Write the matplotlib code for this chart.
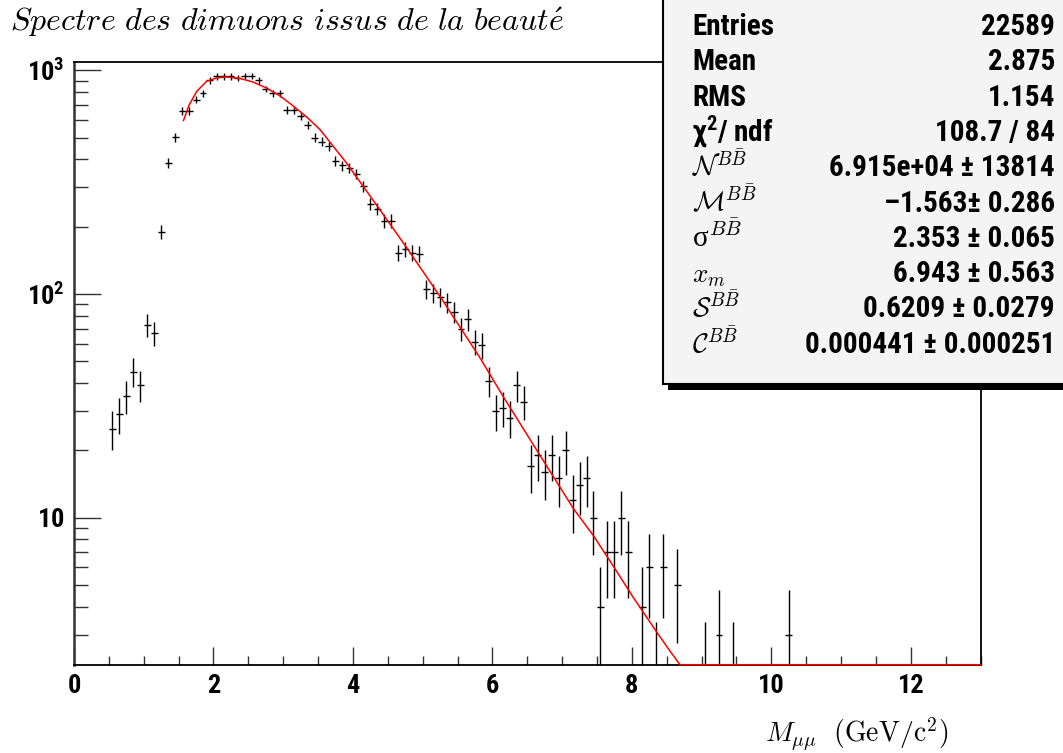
import os
import numpy as np
import matplotlib
matplotlib.use("Agg")
import matplotlib.pyplot as plt
from matplotlib import font_manager as fm
from matplotlib.patches import Rectangle
from matplotlib.ticker import LogLocator, NullFormatter, MultipleLocator

# ---------------- data ----------------
bin_lo = 0.0
bin_width = 0.1
counts = [
    0, 0, 0, 0, 0, 25, 29, 35, 45, 39,
    73, 67, 190, 386, 503, 660, 660, 740, 789, 902,
    940, 940, 940, 925, 947, 947, 902, 826, 789, 789,
    667, 665, 623, 570, 501, 480, 457, 394, 376, 368,
    344, 303, 253, 241, 213, 213, 153, 159, 153, 151,
    105, 101, 97, 92, 83, 70, 77, 61, 59, 41,
    30, 31, 28, 39, 33, 17, 19, 16, 19, 15,
    20, 12, 14, 15, 10, 4, 7, 7, 10, 7,
    0, 4, 6, 2, 6, 0, 5, 0, 0, 0,
    2, 0, 3, 0, 2, 0, 0, 0, 0, 0,
    0, 0, 3, 0, 0, 0, 0, 0, 0, 0,
    0, 0, 0, 0, 0, 0, 0, 0, 0, 0,
    0, 0, 0, 0, 0, 0, 0, 0, 0, 0,
]

# fit curve (values below the frame are drawn on its bottom edge)
fit_x = [1.57, 1.65, 1.76, 1.90, 2.05, 2.19, 2.38, 2.57, 2.76, 2.95, 3.14, 3.33,
         3.53, 3.72, 3.91, 4.10, 4.40, 4.76, 5.25, 5.82, 6.15, 6.66, 7.16, 7.45,
         7.73, 8.02, 8.35, 8.54, 8.69, 8.75, 13.0]
fit_y = [597, 700, 806, 893, 927, 934, 921, 887, 834, 771, 695, 622,
         543, 457, 385, 318, 235, 163, 97.5, 52, 35, 19.5, 11.0, 8.3,
         6.1, 4.4, 3.1, 2.55, 2.2, 0.0, 0.0]

x_major = [0, 2, 4, 6, 8, 10, 12]
x_labels = ["0", "2", "4", "6", "8", "10", "12"]
y_major = [10, 100, 1000]
y_labels = [r"$\mathbf{10}$", r"$\mathbf{10^{2}}$", r"$\mathbf{10^{3}}$"]

title = r"$\mathit{Spectre\ des\ dimuons\ issus\ de\ la\ beaut\acute{e}}$"
xlabel = r"$M_{\mu\mu}\ \ \mathrm{(GeV/c^{2})}$"

stat_names = ["Entries", "Mean", "RMS", r"χ$^{\mathbf{2}}$/ ndf",
              r"$\mathcal{N}^{B\bar{B}}$", r"$\mathcal{M}^{B\bar{B}}$",
              r"σ$^{B\bar{B}}$", r"$x_m$", r"$\mathcal{S}^{B\bar{B}}$",
              r"$\mathcal{C}^{B\bar{B}}$"]
stat_values = ["22589", "2.875", "1.154", "108.7 / 84", "6.915e+04 ± 13814",
               "–1.563± 0.286", "2.353 ± 0.065", "6.943 ± 0.563",
               "0.6209 ± 0.0279", "0.000441 ± 0.000251"]

# ---------------- fonts (condensed bold sans, like ROOT's Helvetica) ----------------
def find_condensed_bold():
    wanted = ["liberationsansnarrow-bold.ttf", "robotocondensed-bold.ttf",
              "notosans-condensedbold.ttf", "opensans_condensed-bold.ttf",
              "opensanscondensed-bold.ttf", "opensans-condensedbold.ttf",
              "dejavusanscondensed-bold.ttf"]
    files = {os.path.basename(f.fname).lower(): f.fname for f in fm.fontManager.ttflist}
    try:
        for p in fm.findSystemFonts():
            files.setdefault(os.path.basename(p).lower(), p)
    except Exception:
        pass
    for w in wanted:
        if w in files:
            return files[w]
    return None

path = find_condensed_bold()
if path:
    try:
        fm.fontManager.addfont(path)
    except Exception:
        pass
    COND = fm.FontProperties(fname=path).get_name()
else:
    COND = "Liberation Sans"

def bold_fp(size):
    if path:
        return fm.FontProperties(fname=path, size=size)
    return fm.FontProperties(family=["Liberation Sans", "DejaVu Sans"], weight="bold",
                             size=size)

plt.rcParams["font.family"] = ["Liberation Sans", "DejaVu Sans"]
plt.rcParams["mathtext.fontset"] = "custom"
plt.rcParams["mathtext.bf"] = COND + ":bold"
plt.rcParams["mathtext.rm"] = COND + ":bold"
plt.rcParams["mathtext.it"] = COND + ":bold"

# ---------------- figure ----------------
W, H = 1063, 753
fig = plt.figure(figsize=(W / 100, H / 100), dpi=100)
L, R, T, B = 74, 980.5, 61.7, 664.7
ax = fig.add_axes([L / W, 1 - B / H, (R - L) / W, (B - T) / H])

ymin, ymax = 2.2, 1094
counts_arr = np.array(counts, dtype=float)
centers = bin_lo + bin_width * (np.arange(len(counts_arr)) + 0.5)
m = counts_arr > 0
ax.errorbar(centers[m], counts_arr[m], xerr=bin_width / 2, yerr=np.sqrt(counts_arr[m]),
            fmt="none", ecolor="black", elinewidth=1.0, capsize=0, zorder=2)

fx = np.array(fit_x)
fy = np.clip(np.array(fit_y), ymin, None)
ax.plot(fx, fy, color="red", lw=1.1, zorder=4, clip_on=False)

ax.set_yscale("log")
ax.set_xlim(0, 13)
ax.set_ylim(ymin, ymax)

ax.set_xticks(x_major, labels=x_labels)
ax.xaxis.set_minor_locator(MultipleLocator(0.5))
ax.set_yticks(y_major, labels=y_labels)
ax.yaxis.set_minor_locator(LogLocator(base=10, subs=np.arange(2, 10)))
ax.yaxis.set_minor_formatter(NullFormatter())

ax.tick_params(axis="y", which="major", direction="in", length=19.5, width=1.0,
               color="#333333", pad=7, right=False, labelsize=19)
ax.tick_params(axis="y", which="minor", direction="in", length=10, width=1.0,
               color="#333333", right=False)
ax.tick_params(axis="x", which="major", direction="in", length=13, width=1.0,
               color="#333333", pad=7, top=False)
ax.tick_params(axis="x", which="minor", direction="in", length=6.5, width=1.0,
               color="#333333", top=False)
for lab in ax.get_xticklabels():
    lab.set_fontproperties(bold_fp(19))
for s in ax.spines.values():
    s.set_linewidth(1.3)
    s.set_color("black")
ax.spines["left"].set_linewidth(1.8)
ax.spines["left"].set_color("#333333")

# ---------------- overlay (title, x label, stats box) ----------------
ov = fig.add_axes([0, 0, 1, 1], zorder=10)
ov.set_xlim(0, W)
ov.set_ylim(H, 0)
ov.axis("off")

ov.text(10, 31, title, fontsize=23, ha="left", va="baseline", math_fontfamily="cm")
ov.text(948, 742, xlabel, fontsize=20, ha="right", va="baseline", math_fontfamily="cm")

box_left, box_bottom = 663, 384
ov.add_patch(Rectangle((box_left + 5, box_bottom), W, 6, facecolor="black",
                       edgecolor="none", zorder=1))
ov.add_patch(Rectangle((box_left, -10), W, box_bottom + 10, facecolor="#f4f4f4",
                       edgecolor="black", lw=1.5, zorder=2))

row0, dy = 35, 35.3
for i, (nm, val) in enumerate(zip(stat_names, stat_values)):
    yb = row0 + i * dy
    if i < 4:
        ov.text(692, yb, nm, ha="left", va="baseline", fontproperties=bold_fp(21),
                zorder=3)
    elif nm.startswith("σ"):
        ov.text(692, yb, nm, fontsize=21, ha="left", va="baseline",
                family=["Liberation Serif", "DejaVu Serif"], math_fontfamily="cm",
                zorder=3)
    else:
        ov.text(692, yb, nm, fontsize=19.5, ha="left", va="baseline",
                math_fontfamily="cm", zorder=3)
    ov.text(1055, yb, val, ha="right", va="baseline", fontproperties=bold_fp(21),
            zorder=3)

fig.savefig("out.png", dpi=100)
